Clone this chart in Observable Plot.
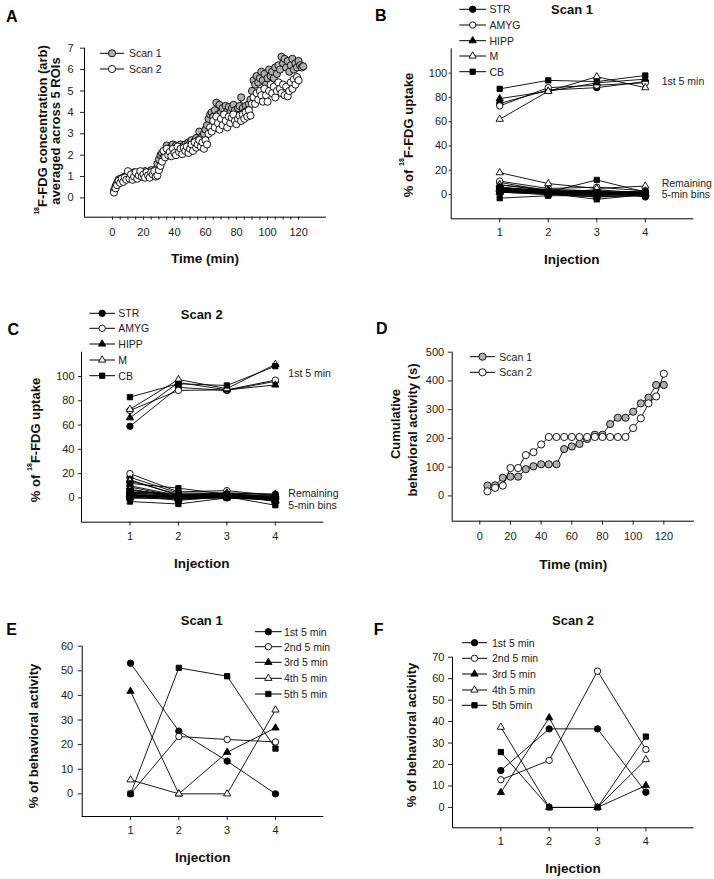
<!DOCTYPE html>
<html><head><meta charset="utf-8">
<script src="https://cdn.jsdelivr.net/npm/d3@7"></script>
<script src="https://cdn.jsdelivr.net/npm/@observablehq/plot@0.6"></script>
<style>
body{margin:0;background:#fff;}
#fig{position:relative;width:714px;height:879px;overflow:hidden;background:#fff;}
#fig svg.panel{position:absolute;}
#overlay{position:absolute;left:0;top:0;}
</style></head><body><div id="fig"></div>
<script>
// ---------------- DATA ----------------
// Panel A: 18F-FDG concentration (arb), one value per minute starting at minute 1
const scan1Conc = [0.35,0.55,0.7,0.85,0.9,0.8,0.95,1.0,0.9,1.1,1.0,1.15,1.05,1.2,1.1,0.95,1.2,1.1,1.0,1.15,
  1.25,1.1,1.2,1.15,1.3,1.2,1.25,1.35,1.6,1.8,2.0,2.1,1.9,2.2,2.45,2.3,2.1,2.4,2.5,2.3,
  2.45,2.2,2.35,2.5,2.4,2.3,2.5,2.4,2.6,2.55,2.7,2.5,2.65,2.8,2.7,3.1,2.75,2.9,3.0,3.2,
  3.4,3.7,3.9,4.0,3.8,4.1,4.45,3.9,4.35,4.0,4.2,3.9,4.3,4.05,4.25,4.0,4.2,4.35,4.1,3.9,
  4.2,4.3,4.7,4.2,4.0,4.3,4.1,4.4,4.6,5.0,5.5,5.3,5.7,5.4,5.6,5.9,5.5,5.8,5.3,5.6,
  6.0,5.7,5.9,5.6,6.1,5.8,6.2,6.0,6.6,6.3,6.5,6.1,6.4,5.9,6.2,6.5,6.0,6.3,6.1,6.4,
  6.2,6.1,6.15];
const scan2Conc = [0.25,0.45,0.6,0.8,0.7,0.9,0.75,0.95,0.85,1.25,0.9,1.1,0.85,1.0,1.2,0.9,1.05,1.25,1.0,1.1,
  0.95,1.2,1.05,0.95,1.2,1.1,1.25,1.0,1.05,1.3,1.5,1.7,2.2,1.9,2.3,2.0,2.15,1.95,2.3,2.1,
  2.0,2.4,2.15,2.3,2.05,2.35,2.2,2.4,2.1,2.3,2.5,2.2,2.6,2.35,2.5,2.7,2.4,2.6,2.3,2.7,
  2.5,3.0,3.3,3.1,3.6,3.3,3.8,3.5,3.2,3.7,3.4,3.9,3.6,3.3,3.8,3.5,3.75,3.9,3.6,3.45,
  3.7,3.85,3.6,3.9,3.7,4.0,3.8,4.1,3.85,4.4,4.7,4.4,4.9,4.6,5.0,4.8,4.5,5.1,4.8,4.5,
  5.0,5.3,4.9,5.2,4.7,5.0,5.4,5.1,4.9,5.3,4.8,5.2,4.75,5.0,5.4,5.1,5.55,5.3,5.65,5.5];

// Panels B, C: % of 18F-FDG uptake per injection (regions in order STR, AMYG, HIPP, M, CB)
const regions = ["STR","AMYG","HIPP","M","CB"];
const injections = [1,2,3,4];
const scan1First5 = [[75,86,88,93],[73,88,90,92],[79,85,92,95],[62,85,97,88],[87,94,93,98]];
const scan1Remaining = [
  [[10,3,2,-1],[5,4,3,0],[4,2,1,2],[3,1,4,1],[3,2,2,-2]],
  [[11,5,6,3],[6,3,2,1],[4,2,1,2],[3,1,0,1],[3,1,1,1]],
  [[8,4,3,2],[5,3,2,1],[4,3,1,1],[2,2,1,0],[2,3,1,1]],
  [[18,9,5,7],[8,3,1,3],[6,2,-1,2],[4,1,-2,0],[2,0,0,0]],
  [[6,2,12,2],[5,1,2,1],[3,1,-4,0],[2,0,-2,-1],[-3,-1,-1,0]]
];
const scan2First5 = [[59,91,88.5,96],[72,88.5,89,97],[66,95,89,93],[73,97.5,90,110],[83,94,92.6,108.5]];
const scan2Remaining = [
  [[17,4,4,3],[10,2,3,1],[7,1,2,0],[4,2,1,1],[3,0,1,-1]],
  [[20,5,6,2],[5,3,3,1],[2,2,1,0],[1,1,1,1],[0,0,0,-1]],
  [[15,2,4,3],[9,1,3,2],[5,1,2,1],[3,0,1,1],[2,1,1,0]],
  [[14,3,4,-2],[7,1,3,-3],[4,0,2,-2],[2,-1,1,-1],[0,-1,0,-2]],
  [[12,8,3,1],[6,3,2,-1],[2,-2,1,-2],[0,2,1,-6],[-3,-5,0,-1]]
];

// Panel D: cumulative behavioral activity (s)
const behavTimes = [5,10,15,20,25,30,35,40,45,50,55,60,65,70,75,80,85,90,95,100,105,110,115,120];
const scan1Cumul = [36,37,63,67,67,93,103,110,110,110,163,172,181,198,213,213,250,272,272,293,322,342,386,386];
const scan2Cumul = [16,28,36,97,97,142,152,179,205,205,205,205,205,205,205,205,205,205,205,236,270,322,346,425];

// Panels E, F: % of behavioral activity per 5-min bin
const binLabelsE = ["1st 5 min","2nd 5 min","3rd 5 min","4th 5 min","5th 5 min"];
const binLabelsF = ["1st 5 min","2nd 5 min","3rd 5 min","4th 5 min","5th 5min"];
const scan1Behavior = [[53.1,25.5,13.3,0],[0,23.3,22.1,21.1],[41.7,0,16.9,26.8],[5.7,0,0,34.1],[0,51.2,47.8,18.4]];
const scan2Behavior = [[17.2,36.6,36.6,7.1],[12.9,21.9,63.5,27],[7,41.8,0,10.2],[37.4,0,0,22.3],[25.8,0,0,33]];

// ---------------- STYLE ----------------
const FONT = '"Liberation Sans", Arial, Helvetica, sans-serif';
const seriesSymbols = ["circle","circle","triangle","triangle","square"];
const seriesFills = ["black","white","black","white","black"];
const seriesR = [3.2,3.2,2.7,2.7,3.0];
const GRAY = "#b0b0b0";

const fig = document.getElementById("fig");

function panel(o) {
  const p = Plot.plot({
    width: o.w, height: o.h,
    marginLeft: o.mL, marginRight: o.mR, marginTop: o.mT, marginBottom: o.mB,
    style: {fontFamily: FONT, fontSize: "11px", color: "#222", background: "transparent", overflow: "visible"},
    x: {domain: o.xDomain, ticks: o.xTicks, tickFormat: o.xFormat || "d", tickSize: o.xTS, tickPadding: o.xTP, label: null},
    y: {domain: o.yDomain, ticks: o.yTicks, tickFormat: "d", tickSize: o.yTS, tickPadding: o.yTP, label: null},
    marks: [
      Plot.ruleX([o.xDomain[0]], {stroke: "black", strokeWidth: 1}),
      Plot.ruleY([o.yDomain[0]], {stroke: "black", strokeWidth: 1}),
      ...o.marks
    ]
  });
  p.classList.add("panel");
  p.style.left = o.left + "px";
  p.style.top = o.top + "px";
  fig.appendChild(p);
}

function series(rows, i) {
  return [
    Plot.line(rows, {x: "x", y: "y", stroke: "black", strokeWidth: 0.9}),
    Plot.dot(rows, {x: "x", y: "y", symbol: seriesSymbols[i], fill: seriesFills[i], stroke: "black", strokeWidth: 0.9, r: seriesR[i]})
  ];
}
const rowsOf = vals => vals.map((v, k) => ({x: injections[k], y: v}));

function uptakeMarks(first, remaining) {
  const m = [];
  remaining.forEach((bins, i) => bins.forEach(b => m.push(...series(rowsOf(b), i))));
  first.forEach((f, i) => m.push(...series(rowsOf(f), i)));
  return m;
}

// Panel A
const aRows1 = scan1Conc.map((v, k) => ({x: k + 1, y: v}));
const aRows2 = scan2Conc.map((v, k) => ({x: k + 1, y: v}));
panel({left: 0, top: 0, w: 357, h: 300, mL: 84, mR: 31, mT: 47.7, mB: 83.3,
  xDomain: [-18, 138], yDomain: [-0.9, 7],
  xTicks: [0,5,10,15,20,25,30,35,40,45,50,55,60,65,70,75,80,85,90,95,100,105,110,115,120],
  xFormat: d => d % 20 === 0 ? d : "", xTS: 3, xTP: 8,
  yTicks: [0,1,2,3,4,5,6,7], yTS: 4, yTP: 7,
  marks: [
    Plot.line(aRows1, {x: "x", y: "y", stroke: "black", strokeWidth: 0.8}),
    Plot.dot(aRows1, {x: "x", y: "y", r: 3.6, fill: GRAY, stroke: "black", strokeWidth: 0.9}),
    Plot.line(aRows2, {x: "x", y: "y", stroke: "black", strokeWidth: 0.8}),
    Plot.dot(aRows2, {x: "x", y: "y", r: 3.6, fill: "white", stroke: "black", strokeWidth: 0.9})
  ]});

// Panel B
panel({left: 357, top: 0, w: 357, h: 300, mL: 93.7, mR: 20.7, mT: 48.3, mB: 81.7,
  xDomain: [0, 5], yDomain: [-20, 120], xTicks: injections, xTS: 4, xTP: 5,
  yTicks: [0,20,40,60,80,100], yTS: 2, yTP: 2,
  marks: uptakeMarks(scan1First5, scan1Remaining)});

// Panel C
panel({left: 0, top: 300, w: 357, h: 300, mL: 81, mR: 33.7, mT: 51.7, mB: 78.3,
  xDomain: [0, 5], yDomain: [-20, 120], xTicks: injections, xTS: 4, xTP: 6,
  yTicks: [0,20,40,60,80,100], yTS: 3, yTP: 4,
  marks: uptakeMarks(scan2First5, scan2Remaining)});

// Panel D
const dRows1 = behavTimes.map((t, k) => ({x: t, y: scan1Cumul[k]}));
const dRows2 = behavTimes.map((t, k) => ({x: t, y: scan2Cumul[k]}));
panel({left: 357, top: 300, w: 357, h: 300, mL: 94.7, mR: 20, mT: 51.7, mB: 79.3,
  xDomain: [-18, 140], yDomain: [-88, 500], xTicks: [0,20,40,60,80,100,120], xTS: 4, xTP: 7,
  yTicks: [0,100,200,300,400,500], yTS: 4, yTP: 4,
  marks: [
    Plot.line(dRows1, {x: "x", y: "y", stroke: "black", strokeWidth: 0.9}),
    Plot.dot(dRows1, {x: "x", y: "y", r: 3.6, fill: GRAY, stroke: "black", strokeWidth: 0.9}),
    Plot.line(dRows2, {x: "x", y: "y", stroke: "black", strokeWidth: 0.9}),
    Plot.dot(dRows2, {x: "x", y: "y", r: 3.6, fill: "white", stroke: "black", strokeWidth: 0.9})
  ]});

// Panel E
panel({left: 0, top: 600, w: 357, h: 279, mL: 81.7, mR: 33.7, mT: 45.7, mB: 63,
  xDomain: [0, 5], yDomain: [-9.2, 60], xTicks: injections, xTS: 4, xTP: 6,
  yTicks: [0,10,20,30,40,50,60], yTS: 4, yTP: 5,
  marks: scan1Behavior.flatMap((v, i) => series(rowsOf(v), i))});

// Panel F
panel({left: 357, top: 600, w: 357, h: 279, mL: 95, mR: 20.3, mT: 56.7, mB: 51.7,
  xDomain: [0, 5], yDomain: [-9.5, 70], xTicks: injections, xTS: 4, xTP: 5,
  yTicks: [0,10,20,30,40,50,60,70], yTS: 4, yTP: 4,
  marks: scan2Behavior.flatMap((v, i) => series(rowsOf(v), i))});

// ---------------- OVERLAY TEXT & LEGENDS ----------------
const ov = d3.select(fig).append("svg").attr("id", "overlay").attr("width", 714).attr("height", 879)
  .style("font-family", FONT);

function txt(x, y, s, {size = 11, weight = "normal", anchor = "start", color = "#222"} = {}) {
  ov.append("text").attr("x", x).attr("y", y).attr("dominant-baseline", "central")
    .attr("text-anchor", anchor).attr("font-size", size).attr("font-weight", weight)
    .attr("fill", color).text(s);
}
function vtxt(x, y, parts, size = 13) {
  const t = ov.append("text").attr("transform", `translate(${x},${y}) rotate(-90)`)
    .attr("dominant-baseline", "central").attr("text-anchor", "middle")
    .attr("font-size", size).attr("font-weight", "bold").attr("fill", "#111");
  parts.forEach(p => {
    if (p.sup) t.append("tspan").attr("font-size", size * 0.55).attr("dy", -size * 0.4).text(p.sup);
    else t.append("tspan").attr("dy", p.after ? size * 0.4 : 0).text(p.t);
  });
}
const symMap = {circle: d3.symbolCircle, triangle: d3.symbolTriangle, square: d3.symbolSquare};
function legend(x0, x1, textX, ys, labels, symbols, fills, rs) {
  ys.forEach((y, i) => {
    ov.append("line").attr("x1", x0).attr("x2", x1).attr("y1", y).attr("y2", y).attr("stroke", "black").attr("stroke-width", 1);
    ov.append("path").attr("d", d3.symbol(symMap[symbols[i]], Math.PI * rs[i] * rs[i])())
      .attr("transform", `translate(${(x0 + x1) / 2},${y})`).attr("fill", fills[i]).attr("stroke", "black").attr("stroke-width", 0.9);
    txt(textX, y, labels[i], {size: 10.5});
  });
}

// Panel letters
txt(11.7, 16, "A", {size: 16, weight: "bold", anchor: "middle", color: "#000"});
txt(380.7, 15, "B", {size: 16, weight: "bold", anchor: "middle", color: "#000"});
txt(13.3, 329.3, "C", {size: 16, weight: "bold", anchor: "middle", color: "#000"});
txt(381.7, 328.3, "D", {size: 16, weight: "bold", anchor: "middle", color: "#000"});
txt(11.7, 629.3, "E", {size: 16, weight: "bold", anchor: "middle", color: "#000"});
txt(378.7, 629.3, "F", {size: 16, weight: "bold", anchor: "middle", color: "#000"});

// Titles
txt(572, 9.5, "Scan 1", {size: 13, weight: "bold", anchor: "middle", color: "#111"});
txt(201.7, 314, "Scan 2", {size: 13, weight: "bold", anchor: "middle", color: "#111"});
txt(201.7, 620, "Scan 1", {size: 13, weight: "bold", anchor: "middle", color: "#111"});
txt(573, 620.7, "Scan 2", {size: 13, weight: "bold", anchor: "middle", color: "#111"});

// x labels
txt(205, 258, "Time (min)", {size: 13.5, weight: "bold", anchor: "middle", color: "#111"});
txt(571.7, 259.3, "Injection", {size: 13.5, weight: "bold", anchor: "middle", color: "#111"});
txt(201.7, 563.3, "Injection", {size: 13.5, weight: "bold", anchor: "middle", color: "#111"});
txt(573.3, 564, "Time (min)", {size: 13.5, weight: "bold", anchor: "middle", color: "#111"});
txt(202.7, 857.7, "Injection", {size: 13.5, weight: "bold", anchor: "middle", color: "#111"});
txt(573, 868.3, "Injection", {size: 13.5, weight: "bold", anchor: "middle", color: "#111"});

// y labels
vtxt(42, 130, [{sup: "18"}, {t: "F-FDG concentration (arb)", after: true}]);
vtxt(55, 131, [{t: "averaged across 5 ROIs"}]);
vtxt(407.5, 135, [{t: "% of "}, {sup: "18"}, {t: "F-FDG uptake", after: true}]);
vtxt(35, 440, [{t: "% of "}, {sup: "18"}, {t: "F-FDG uptake", after: true}]);
vtxt(395, 424, [{t: "Cumulative"}]);
vtxt(411.7, 430, [{t: "behavioral activity (s)"}]);
vtxt(33.3, 736, [{t: "% of behavioral activity"}]);
vtxt(411, 735, [{t: "% of behavioral activity"}]);

// annotations
txt(661.7, 81, "1st 5 min", {size: 10.5});
txt(661.7, 182.7, "Remaining", {size: 10.5});
txt(661.7, 194.3, "5-min bins", {size: 10.5});
txt(288.3, 373.3, "1st 5 min", {size: 10.5});
txt(288.3, 493.3, "Remaining", {size: 10.5});
txt(288.3, 505, "5-min bins", {size: 10.5});

// legends
legend(100, 124, 129, [53.3, 69], ["Scan 1", "Scan 2"], ["circle", "circle"], [GRAY, "white"], [3.6, 3.6]);
legend(470, 495, 499.3, [356.7, 372.3], ["Scan 1", "Scan 2"], ["circle", "circle"], [GRAY, "white"], [3.6, 3.6]);
legend(459.3, 486, 489.5, [9.3, 25, 40.7, 56, 71.7], regions, seriesSymbols, seriesFills, seriesR);
legend(89.3, 115, 118.3, [313.3, 328.3, 344, 360, 375.7], regions, seriesSymbols, seriesFills, seriesR);
legend(255, 281.7, 284, [631.7, 646.7, 662.3, 678.3, 694], binLabelsE, seriesSymbols, seriesFills, seriesR);
legend(462, 487, 492, [642.7, 658.3, 674, 690, 705.3], binLabelsF, seriesSymbols, seriesFills, seriesR);
</script></body></html>
